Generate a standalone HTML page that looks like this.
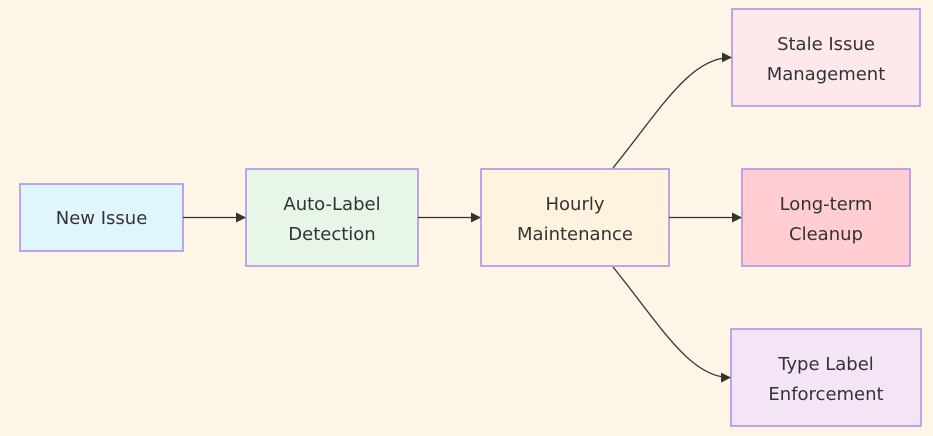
<!DOCTYPE html>
<html><head><meta charset="utf-8"><style>
body{margin:0;background:#fdf5e6;}
svg{display:block}
text{font-family:"DejaVu Sans","Liberation Sans",sans-serif;font-size:18px;fill:#333;text-anchor:middle}
rect{stroke:#a98ce6;stroke-width:1.5}
path{fill:none;stroke:#333;stroke-width:1.3}
</style></head><body>
<svg width="933" height="436" viewBox="0 0 933 436">
<defs><marker id="a" markerWidth="10" markerHeight="10" refX="9" refY="5" orient="auto" markerUnits="userSpaceOnUse"><path d="M0,0L10,5L0,10z" style="fill:#333;stroke:none"/></marker></defs>
<rect x="20" y="184" width="163" height="67" fill="#e1f5fe"/>
<rect x="246" y="169" width="172" height="97" fill="#e8f5e9"/>
<rect x="481" y="169" width="188" height="97" fill="#fff3e0"/>
<rect x="732" y="9" width="188" height="97" fill="#fde8ec"/>
<rect x="742" y="169" width="168" height="97" fill="#ffcdd2"/>
<rect x="731" y="329" width="190" height="97" fill="#f3e5f5"/>
<path d="M183,217.5H245" marker-end="url(#a)"/>
<path d="M418,217.5H480" marker-end="url(#a)"/>
<path d="M669,217.5H741" marker-end="url(#a)"/>
<path d="M613,168C660,110 690,57 731,57.5" marker-end="url(#a)"/>
<path d="M613,267C660,325 690,378 730,377.5" marker-end="url(#a)"/>
<text x="101.5" y="224">New Issue</text>
<text x="332" y="210">Auto-Label</text><text x="332" y="240">Detection</text>
<text x="575" y="210">Hourly</text><text x="575" y="240">Maintenance</text>
<text x="826" y="50">Stale Issue</text><text x="826" y="80">Management</text>
<text x="826" y="210">Long-term</text><text x="826" y="240">Cleanup</text>
<text x="826" y="370">Type Label</text><text x="826" y="400">Enforcement</text>
</svg>
</body></html>
